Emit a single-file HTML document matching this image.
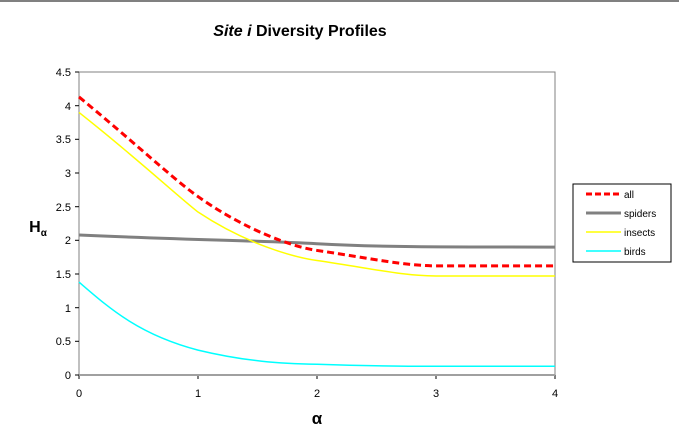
<!DOCTYPE html>
<html><head><meta charset="utf-8"><style>
body{margin:0;background:#fff;}
svg{display:block;font-family:"Liberation Sans",Arial,sans-serif;}
</style></head><body>
<svg width="679" height="440" viewBox="0 0 679 440">
<rect width="679" height="440" fill="#fff"/>
<line x1="0" y1="1" x2="679" y2="1" stroke="#808080" stroke-width="2"/>
<text x="300" y="36" text-anchor="middle" font-size="16" font-weight="bold"><tspan font-style="italic">Site i</tspan> Diversity Profiles</text>
<rect x="79" y="72" width="476" height="303" fill="none" stroke="#808080" stroke-width="1"/>
<g stroke="#000" stroke-width="1">
<line x1="75" y1="72" x2="79" y2="72"/><line x1="75" y1="105.7" x2="79" y2="105.7"/><line x1="75" y1="139.3" x2="79" y2="139.3"/><line x1="75" y1="173" x2="79" y2="173"/><line x1="75" y1="206.7" x2="79" y2="206.7"/><line x1="75" y1="240.3" x2="79" y2="240.3"/><line x1="75" y1="274" x2="79" y2="274"/><line x1="75" y1="307.7" x2="79" y2="307.7"/><line x1="75" y1="341.3" x2="79" y2="341.3"/><line x1="75" y1="375" x2="79" y2="375"/>
<line x1="79" y1="375" x2="79" y2="379"/><line x1="198" y1="375" x2="198" y2="379"/><line x1="317" y1="375" x2="317" y2="379"/><line x1="436" y1="375" x2="436" y2="379"/><line x1="555" y1="375" x2="555" y2="379"/>
</g>
<line x1="79" y1="375" x2="555" y2="375" stroke="#a0a0a0" stroke-width="2"/>
<g font-size="11" text-anchor="end">
<text x="71" y="76">4.5</text><text x="71" y="110">4</text><text x="71" y="143">3.5</text><text x="71" y="177">3</text><text x="71" y="211">2.5</text><text x="71" y="244">2</text><text x="71" y="278">1.5</text><text x="71" y="312">1</text><text x="71" y="345">0.5</text><text x="71" y="379">0</text>
</g>
<g font-size="11" text-anchor="middle">
<text x="79" y="397">0</text><text x="198" y="397">1</text><text x="317" y="397">2</text><text x="436" y="397">3</text><text x="555" y="397">4</text>
</g>
<text x="317" y="424" font-size="17" font-weight="bold" text-anchor="middle">α</text>
<text x="38" y="232" font-size="16" font-weight="bold" text-anchor="middle">H<tspan font-size="10" dy="4">α</tspan></text>
<g transform="translate(79,375) scale(119,-67.33)" fill="none">
<path vector-effect="non-scaling-stroke" stroke="#808080" stroke-width="3" d="M0,2.08 C1,2.0 1.5,2.0 2,1.95 C2.5,1.9 3,1.9 4,1.9"/>
<path vector-effect="non-scaling-stroke" stroke="#ffff00" stroke-width="1.5" d="M0,3.9 C0.5,3.2 0.8,2.7 1,2.42 C1.4,1.95 1.8,1.75 2,1.7 C2.5,1.57 2.7,1.48 3,1.47 L4,1.47"/>
<path vector-effect="non-scaling-stroke" stroke="#00ffff" stroke-width="1.5" d="M0,1.38 C0.25,1.0 0.5,0.6 1,0.37 C1.4,0.2 1.7,0.17 2,0.16 C2.5,0.13 2.8,0.13 3,0.13 L4,0.13"/>
<path vector-effect="non-scaling-stroke" stroke="#ff0000" stroke-width="3" stroke-dasharray="7,4" d="M0,4.13 C0.5,3.4 0.8,2.9 1,2.65 C1.4,2.15 1.8,1.9 2,1.85 C2.5,1.72 2.7,1.63 3,1.62 L4,1.62"/>
</g>
<rect x="573" y="184" width="98" height="78" fill="#fff" stroke="#000" stroke-width="1"/>
<g font-size="10">
<line x1="586" y1="194" x2="621" y2="194" stroke="#ff0000" stroke-width="3" stroke-dasharray="6,3"/><text x="624" y="198">all</text>
<line x1="586" y1="213" x2="621" y2="213" stroke="#808080" stroke-width="3"/><text x="624" y="217">spiders</text>
<line x1="586" y1="232" x2="621" y2="232" stroke="#ffff00" stroke-width="1.5"/><text x="624" y="236">insects</text>
<line x1="586" y1="251" x2="621" y2="251" stroke="#00ffff" stroke-width="1.5"/><text x="624" y="255">birds</text>
</g>
</svg>
</body></html>
